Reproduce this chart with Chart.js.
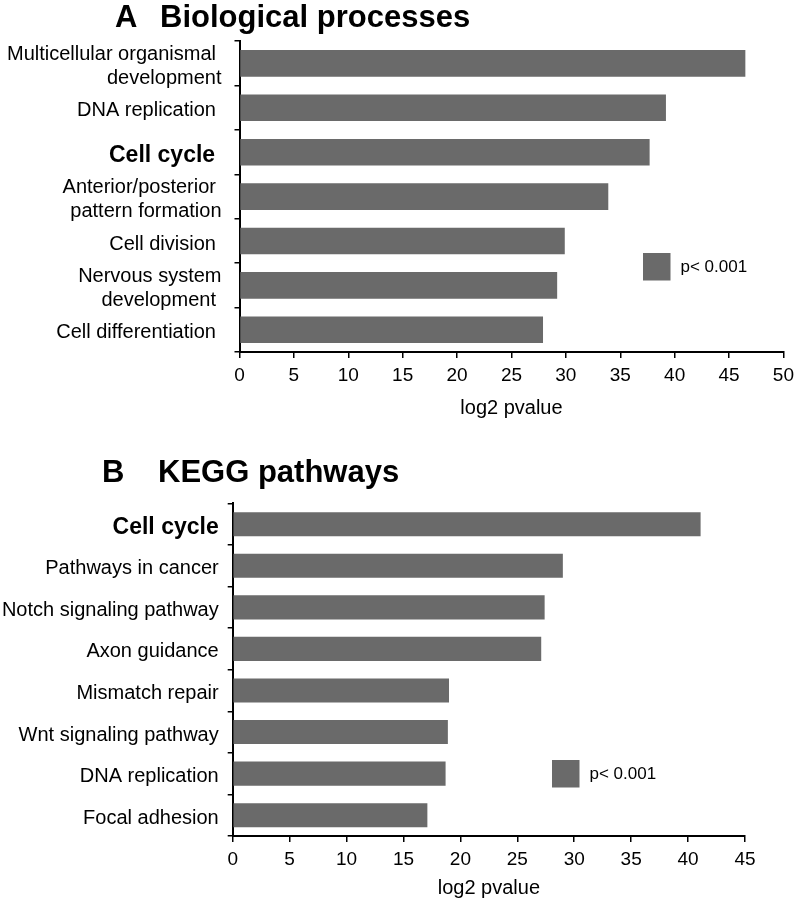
<!DOCTYPE html>
<html>
<head>
<meta charset="utf-8">
<title>GO / KEGG enrichment</title>
<script src="https://cdn.jsdelivr.net/npm/chart.js@4.4.0/dist/chart.umd.min.js"></script>
<style>
    body { margin: 0; background: #fff; }
    .panel { position: absolute; left: 0; width: 800px; }
    #panelA { top: 0; height: 440px; }
    #panelB { top: 440px; height: 461px; }
</style>
</head>
<body>
<div class="panel" id="panelA"><canvas id="bp-chart" width="800" height="440"></canvas></div>
<div class="panel" id="panelB"><canvas id="kegg-chart" width="800" height="461"></canvas></div>

<script>
    "use strict";

    // Biological processes
    var bpLabels = [
        ["Multicellular organismal ", "development"],
        "DNA replication ",
        "Cell cycle ",
        ["Anterior/posterior ", "pattern formation"],
        "Cell division ",
        ["Nervous system", "development "],
        "Cell differentiation "
    ];
    var bpValues = [46.5, 39.2, 37.7, 33.9, 29.9, 29.2, 27.9];
    var bpMax = 50;

    // KEGG pathways
    var keggLabels = [
        "Cell cycle",
        "Pathways in cancer",
        "Notch signaling pathway",
        "Axon guidance",
        "Mismatch repair",
        "Wnt signaling pathway",
        "DNA replication",
        "Focal adhesion"
    ];
    var keggValues = [41.1, 29.0, 27.4, 27.1, 19.0, 18.9, 18.7, 17.1];
    var keggMax = 45;

    var legendText = "p< 0.001";
    var boldLabel = "Cell cycle";
    var axisTitle = "log2 pvalue";

    var FONT = '"Liberation Sans", Arial, Helvetica, sans-serif';
    var BAR = "#6a6a6a";

    Chart.defaults.color = "#000";
    Chart.defaults.font.family = FONT;


    // Panel letter + heading
    var panelTitle = {
        id: "panelTitle",
        afterDraw: function (chart, args, opts) {
            var ctx = chart.ctx;
            ctx.save();
            ctx.fillStyle = "#000";
            ctx.font = "bold 31px " + FONT;
            ctx.textBaseline = "alphabetic";
            ctx.fillText(opts.letter, opts.letterX, opts.baseline);
            ctx.fillText(opts.text, opts.textX, opts.baseline);
            ctx.restore();
        }
    };

    // Small legend box inside the plot
    var legendBox = {
        id: "legendBox",
        afterDraw: function (chart, args, opts) {
            var ctx = chart.ctx;
            var ds = chart.data.datasets[0];
            ctx.save();
            ctx.fillStyle = ds.backgroundColor;
            ctx.fillRect(opts.x, opts.y, opts.size, opts.size);
            ctx.fillStyle = "#000";
            ctx.font = "17px " + FONT;
            ctx.textBaseline = "middle";
            ctx.fillText(ds.label, opts.x + opts.size + 10, opts.y + opts.size / 2 + 1);
            ctx.restore();
        }
    };

    function makeChart(id, labels, values, max, cfg) {
        var ctx = document.getElementById(id).getContext("2d");
        return new Chart(ctx, {
            type: "bar",
            data: {
                labels: labels,
                datasets: [{
                    label: legendText,
                    data: values,
                    backgroundColor: BAR,
                    borderWidth: 0,
                    barPercentage: cfg.barPct,
                    categoryPercentage: 1
                }]
            },
            options: {
                indexAxis: "y",
                responsive: false,
                animation: false,
                layout: {
                    padding: { top: cfg.top, right: cfg.right, left: 0, bottom: 0 }
                },
                plugins: {
                    legend: { display: false },
                    tooltip: { enabled: false },
                    panelTitle: cfg.title,
                    legendBox: cfg.legend
                },
                scales: {
                    x: {
                        min: 0,
                        max: max,
                        ticks: {
                            stepSize: 5,
                            padding: 6,
                            font: { size: 19 },
                            color: "#000"
                        },
                        grid: {
                            drawOnChartArea: false,
                            drawTicks: true,
                            tickLength: 6,
                            color: "#000",
                            lineWidth: 1.5
                        },
                        border: { color: "#000", width: 2 },
                        title: {
                            display: true,
                            text: axisTitle,
                            font: { size: 20 },
                            padding: { top: 0, bottom: cfg.titlePad }
                        },
                        afterFit: function (scale) {
                            scale.height = cfg.xHeight;
                        }
                    },
                    y: {
                        ticks: {
                            autoSkip: false,
                            padding: cfg.labelPad,
                            labelOffset: 3,
                            color: "#000",
                            font: function (c) {
                                var lab = c.tick ? String(c.tick.label).trim() : "";
                                if (lab === boldLabel) {
                                    return { size: 23, weight: "bold", lineHeight: 1.2 };
                                }
                                return { size: 20, weight: "normal", lineHeight: 1.18 };
                            }
                        },
                        grid: {
                            offset: true,
                            drawOnChartArea: false,
                            drawTicks: true,
                            tickLength: 5,
                            color: "#000",
                            lineWidth: 1.5
                        },
                        border: { color: "#000", width: 2 },
                        afterFit: function (scale) {
                            scale.width = cfg.yWidth;
                        }
                    }
                }
            },
            plugins: [panelTitle, legendBox]
        });
    }


    // Panel A
    var bpChart = makeChart("bp-chart", bpLabels, bpValues, bpMax, {
        barPct: 0.6,
        top: 41.2,
        right: 12.3,
        xHeight: 88,
        yWidth: 239.5,
        labelPad: 13,
        titlePad: 20,
        title: { letter: "A", letterX: 115, text: "Biological processes", textX: 160, baseline: 27 },
        legend: { x: 643, y: 253, size: 27.5 }
    });


    // Panel B
    var keggChart = makeChart("kegg-chart", keggLabels, keggValues, keggMax, {
        barPct: 0.58,
        top: 63.4,
        right: 55,
        xHeight: 65,
        yWidth: 232.7,
        labelPad: 9,
        titlePad: 1,
        title: { letter: "B", letterX: 102, text: "KEGG pathways", textX: 158, baseline: 42 },
        legend: { x: 552, y: 320, size: 27.5 }
    });
</script>
</body>
</html>
